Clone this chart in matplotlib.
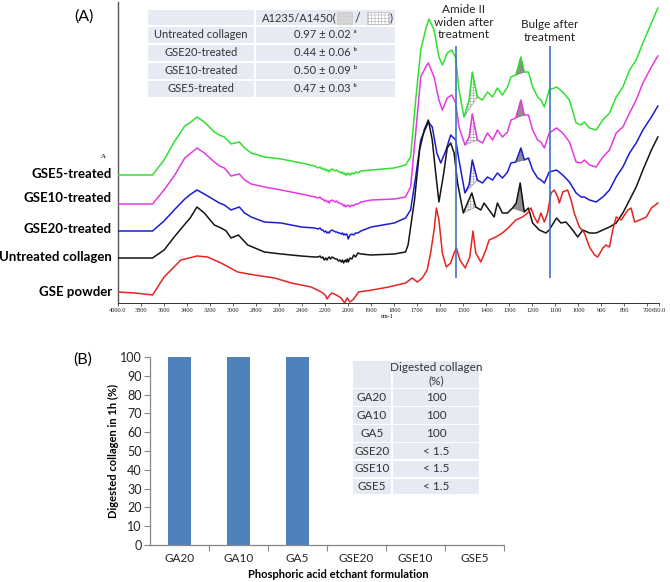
import numpy as np
import matplotlib
matplotlib.use('Agg')
import matplotlib.pyplot as plt
from matplotlib.patches import Rectangle

plt.rcParams['font.family'] = ['Lato', 'DejaVu Sans']
plt.rcParams['hatch.linewidth'] = 0.35

# ---------------- data: FTIR spectra (wavenumber, absorbance a.u.) ----------------
noise_wn = [2260, 2245, 2232, 2220, 2208, 2196, 2185, 2175, 2165, 2155,
            2140, 2125, 2110, 2098, 2085, 2072, 2060, 2050, 2040, 2032,
            2024, 2016, 2008, 2000, 1992, 1984, 1976, 1968, 1958, 1945]
head_wn = [4000, 3850, 3700, 3600, 3512, 3420, 3366, 3314, 3250, 3163,
           3120, 3076, 3018, 2946, 2900, 2843, 2728, 2582, 2408, 2292]

gse5_wn = head_wn + noise_wn + [
    1900, 1800, 1751, 1729, 1707, 1685, 1661, 1649, 1627, 1606,
    1591, 1570, 1550, 1533, 1519, 1497, 1475, 1461, 1439, 1417,
    1395, 1373, 1352, 1330, 1308, 1293, 1272, 1250, 1235, 1217,
    1199, 1177, 1163, 1148, 1127, 1095, 1068, 1039, 1010, 988,
    974, 952, 923, 894, 865, 836, 807, 778, 749, 720, 683, 655]
gse5_abs = [128, 128, 128, 143, 161, 177, 181, 186, 181, 171,
            168, 166, 159, 161, 155, 150, 146, 144, 140, 137,
            135, 136, 134, 135, 133, 134, 132, 133, 131, 133,
            134, 133, 132, 133, 131, 131, 130, 131, 129, 130,
            128, 129, 128, 130, 128, 130, 129, 131, 130, 132,
            133, 135, 138, 146, 203, 253, 276, 284, 273, 246,
            238, 250, 253, 245, 213, 186, 203, 231, 206, 203,
            211, 206, 215, 208, 216, 226, 228, 246, 231, 231,
            216, 206, 203, 196, 213, 216, 211, 203, 180, 178,
            181, 175, 173, 183, 190, 206, 216, 233, 243, 260, 280, 295]

gse10_wn = head_wn + noise_wn + [
    1900, 1800, 1751, 1729, 1707, 1685, 1661, 1652, 1627, 1606,
    1591, 1570, 1550, 1533, 1519, 1493, 1475, 1461, 1439, 1417,
    1395, 1373, 1352, 1330, 1308, 1293, 1272, 1250, 1235, 1217,
    1199, 1177, 1163, 1148, 1127, 1095, 1068, 1039, 1010, 988,
    974, 952, 923, 894, 865, 836, 807, 778, 749, 720, 683, 655]
gse10_abs = [99, 99, 99, 113, 127, 145, 150, 155, 150, 141,
             137, 135, 127, 129, 123, 119, 116, 113, 109, 106,
             105, 106, 104, 104, 102, 103, 101, 102, 100, 102,
             103, 102, 101, 102, 100, 100, 99, 99, 97, 98,
             96, 97, 97, 98, 96, 98, 97, 99, 99, 101,
             103, 104, 106, 116, 170, 226, 237, 240, 226, 203,
             193, 205, 208, 200, 176, 158, 166, 189, 163, 160,
             170, 163, 173, 166, 171, 183, 185, 203, 188, 188,
             173, 163, 161, 155, 170, 175, 170, 161, 141, 140,
             143, 138, 136, 146, 153, 170, 176, 190, 203, 220, 236, 247]

gse20_wn = head_wn + noise_wn + [
    1900, 1800, 1751, 1729, 1707, 1685, 1652, 1635, 1615, 1598,
    1575, 1555, 1533, 1519, 1493, 1475, 1461, 1439, 1417, 1395,
    1373, 1352, 1330, 1308, 1293, 1272, 1250, 1235, 1217, 1199,
    1177, 1163, 1148, 1127, 1095, 1068, 1039, 1010, 988, 974,
    952, 923, 894, 865, 836, 807, 778, 749, 720, 683, 655]
gse20_abs = [72, 72, 72, 82, 93, 104, 109, 113, 109, 103,
             100, 98, 93, 96, 90, 86, 81, 80, 76, 75,
             74, 75, 73, 73, 71, 72, 70, 71, 70, 72,
             73, 72, 71, 71, 70, 70, 69, 70, 68, 69,
             68, 69, 68, 64, 68, 69, 68, 70, 70, 72,
             76, 80, 85, 93, 126, 163, 181, 176, 150, 140,
             153, 168, 163, 143, 110, 118, 143, 123, 120, 126,
             123, 130, 125, 131, 140, 141, 155, 143, 145, 133,
             125, 123, 120, 131, 133, 128, 121, 110, 106, 106,
             103, 101, 106, 113, 126, 136, 150, 160, 173, 186, 197]

untreated_wn = [4000, 3850, 3700, 3599, 3512, 3425, 3373, 3314, 3250, 3163,
                3105, 3060, 3018, 2954, 2873, 2728, 2582, 2408, 2292] + noise_wn + [
    1900, 1800, 1751, 1740, 1712, 1690, 1670, 1652, 1635, 1620,
    1606, 1585, 1570, 1555, 1540, 1525, 1500, 1482, 1463, 1446,
    1424, 1410, 1388, 1366, 1352, 1330, 1308, 1286, 1270, 1253,
    1235, 1217, 1199, 1170, 1141, 1127, 1095, 1076, 1054, 1025,
    1003, 981, 952, 923, 894, 865, 836, 807, 778, 749, 720, 683, 655]
untreated_abs = [45, 45, 45, 53, 66, 78, 85, 96, 90, 78,
                 75, 72, 65, 68, 58, 51, 49, 47, 46,
                 46, 47, 45, 46, 43, 45, 43, 45, 46, 44,
                 46, 45, 44, 44, 42, 43, 41, 43, 40, 42,
                 43, 41, 44, 41, 45, 44, 48, 46, 50, 49,
                 48, 49, 51, 58, 103, 153, 173, 183, 163, 130,
                 101, 130, 155, 160, 150, 120, 90, 100, 110, 96,
                 93, 100, 93, 86, 100, 90, 90, 95, 100, 120,
                 91, 95, 80, 73, 70, 73, 85, 80, 81, 73,
                 66, 73, 70, 70, 73, 76, 80, 90, 103, 116, 133, 153, 166]

powder_wn = [4000, 3850, 3700, 3599, 3454, 3314, 3222, 3105, 2960, 2815,
             2640, 2495, 2321, 2234, 2200, 2184, 2160, 2141, 2104, 2060,
             2045, 2030, 2015, 2008, 1993, 1976, 1955, 1896, 1824, 1751,
             1722, 1700, 1678, 1657, 1642, 1627, 1617, 1606, 1591, 1574,
             1555, 1540, 1530, 1515, 1492, 1472, 1458, 1446, 1424, 1402,
             1388, 1359, 1330, 1301, 1272, 1243, 1221, 1206, 1192, 1177,
             1163, 1148, 1134, 1119, 1105, 1090, 1083, 1068, 1047, 1032,
             1018, 996, 974, 952, 930, 916, 894, 880, 865, 851,
             836, 814, 800, 785, 771, 756, 734, 705, 683, 655]
powder_abs = [11, 10, 8, 26, 43, 47, 46, 40, 31, 28,
              25, 20, 16, 11, 8, 4, 8, 10, 8, 5,
              2, 0, 4, 5, 1, 4, 11, 13, 16, 20,
              25, 21, 25, 33, 50, 73, 95, 83, 50, 36,
              40, 50, 55, 43, 35, 46, 72, 50, 41, 53,
              63, 66, 70, 76, 83, 86, 90, 95, 86, 80,
              90, 81, 90, 110, 113, 106, 100, 111, 113, 103,
              90, 76, 70, 56, 48, 46, 55, 58, 56, 73,
              86, 83, 88, 93, 95, 81, 83, 86, 95, 100]

spectrum_names = ['GSE5-treated', 'GSE10-treated', 'GSE20-treated', 'Untreated collagen', 'GSE powder']
# shaded bands (start, end) in cm-1: amide II hatched, 1235 band grey
amide_band = [(1497, 1439), (1493, 1439), (1493, 1439), (1500, 1446)]
band_1235 = [(1272, 1235), (1272, 1235), (1272, 1235), (1286, 1235)]
marker_wn = [1530, 1125]

tick_wn = [4000, 3800, 3600, 3400, 3200, 3000, 2800, 2600, 2400, 2200, 2000,
           1900, 1800, 1700, 1600, 1500, 1400, 1300, 1200, 1100, 1000, 900, 800, 700, 650]
tick_lbl = ['4000.0', '3800', '3600', '3400', '3200', '3000', '2800', '2600', '2400', '2200', '2000',
            '1900', '1800', '1700', '1600', '1500', '1400', '1300', '1200', '1100', '1000', '900', '800', '700', '650.0']

tableA_rows = ['Untreated collagen', 'GSE20-treated', 'GSE10-treated', 'GSE5-treated']
tableA_vals = ['0.97 ± 0.02 ᵃ', '0.44 ± 0.06 ᵇ', '0.50 ± 0.09 ᵇ', '0.47 ± 0.03 ᵇ']

# ---------------- data: digestion ----------------
formulations = ['GA20', 'GA10', 'GA5', 'GSE20', 'GSE10', 'GSE5']
digested = [100, 100, 100, 0, 0, 0]
digested_txt = ['100', '100', '100', '< 1.5', '< 1.5', '< 1.5']

# ---------------- layout helpers ----------------
W, H = 670, 582
def fx(x): return x / W
def fy(y): return 1 - y / H

fig = plt.figure(figsize=(W / 100, H / 100), dpi=100)
fig.patch.set_facecolor('white')

# ================= Panel A =================
axA = fig.add_axes([fx(118), fy(303), (659 - 118) / W, (303 - 2) / H])

def fwd(x):
    x = np.asarray(x, float)
    return np.where(x >= 2000, (x - 2000) / 200.0, (x - 2000) / 100.0)

def inv(u):
    u = np.asarray(u, float)
    return np.where(u >= 0, 2000 + 200 * u, 2000 + 100 * u)

axA.set_xscale('function', functions=(fwd, inv))
axA.set_xlim(4000, 650)
axA.set_ylim(0, 301)

series = [(gse5_wn, gse5_abs, '#2fe02f'),
          (gse10_wn, gse10_abs, '#e23ae2'),
          (gse20_wn, gse20_abs, '#1c1cd4'),
          (untreated_wn, untreated_abs, '#141414'),
          (powder_wn, powder_abs, '#e42520')]

for wn, ab, col in series:
    axA.plot(np.asarray(wn, float), np.asarray(ab, float), color=col, lw=1.1, zorder=3,
             solid_joinstyle='round')

for si in range(4):
    wn = np.asarray(series[si][0], float); ab = np.asarray(series[si][1], float)
    a0, a1 = amide_band[si]
    m = (wn <= a0) & (wn >= a1)
    axA.fill(wn[m], ab[m], facecolor='white', edgecolor='#9a9a9a', hatch='++++++',
             lw=0.5, zorder=2)
    b0, b1 = band_1235[si]
    m = (wn <= b0) & (wn >= b1)
    axA.fill(wn[m], ab[m], facecolor='#8e8e8e', edgecolor='#707070', lw=0.5, zorder=2)

axA.vlines(marker_wn, 25, 257, colors='#3d72c6', lw=1.2, zorder=4)

axA.set_xticks(tick_wn)
axA.set_xticklabels(tick_lbl, fontfamily='Liberation Serif', fontsize=4.6)
axA.tick_params(axis='x', length=2, width=0.5, pad=1.5, colors='#222')
axA.set_yticks([])
for s in ['top', 'right']:
    axA.spines[s].set_visible(False)
axA.spines['left'].set_color('#555555')
axA.spines['left'].set_linewidth(1.0)
axA.spines['bottom'].set_color('#333333')
axA.spines['bottom'].set_linewidth(0.7)

fig.text(fx(387), fy(317), 'cm-1', fontfamily='Liberation Serif', fontsize=4.5, ha='center', va='center')
fig.text(fx(103), fy(157), 'A', fontfamily='Liberation Serif', fontsize=5, ha='center', va='center')
fig.text(fx(84), fy(17), '(A)', fontsize=11.5, ha='center', va='center')

label_y = [174, 198, 229, 257, 292]
for name, y in zip(spectrum_names, label_y):
    fig.text(fx(112), fy(y), name, fontsize=9.5, fontweight='bold', ha='right', va='center')

fig.text(fx(463.5), fy(22), 'Amide II\nwiden after\ntreatment', fontsize=8.5, ha='center', va='center',
         linespacing=1.15, color='#222')
fig.text(fx(550), fy(31), 'Bulge after\ntreatment', fontsize=8.5, ha='center', va='center',
         linespacing=1.15, color='#222')

cell_col = '#e7eaf2'

def cells(xb, yb):
    for i in range(len(yb) - 1):
        for j in range(len(xb) - 1):
            fig.patches.append(Rectangle((fx(xb[j] + 0.8), fy(yb[i + 1] - 0.8)),
                                         (xb[j + 1] - xb[j] - 1.6) / W, (yb[i + 1] - yb[i] - 1.6) / H,
                                         transform=fig.transFigure, facecolor=cell_col,
                                         edgecolor='none', zorder=0))

# table A
xbA = [147, 255, 396]
ybA = [9.5, 26, 44, 62, 80, 97.5]
cells(xbA, ybA)
fig.text(fx(336.5), fy(18), 'A1235/A1450(', fontsize=8, ha='right', va='center', color='#333')
fig.patches.append(Rectangle((fx(337), fy(24)), 15 / W, 12 / H, transform=fig.transFigure,
                             facecolor='#d6d6d6', edgecolor='#c4c4c4', hatch='.....', lw=0.4, zorder=1))
fig.text(fx(357), fy(18), '/', fontsize=9, ha='center', va='center', color='#333')
fig.patches.append(Rectangle((fx(366.5), fy(24)), 22 / W, 12 / H, transform=fig.transFigure,
                             facecolor='white', edgecolor='#aaaaaa', hatch='+++++', lw=0.4, zorder=1))
fig.text(fx(389.5), fy(18), ')', fontsize=8, ha='left', va='center', color='#333')
for i, (r, v) in enumerate(zip(tableA_rows, tableA_vals)):
    yc = (ybA[i + 1] + ybA[i + 2]) / 2
    fig.text(fx((xbA[0] + xbA[1]) / 2), fy(yc), r, fontsize=8, ha='center', va='center', color='#333')
    fig.text(fx(325), fy(yc), v, fontsize=8, ha='center', va='center', color='#333',
             fontfamily=['Lato', 'DejaVu Sans'])

# ================= Panel B =================
axB = fig.add_axes([fx(150), fy(545), (504 - 150) / W, (545 - 357) / H])
xpos = np.arange(len(formulations))
axB.bar(xpos, digested, width=0.4, color='#4f81bd', zorder=2)
axB.set_xlim(-0.5, len(formulations) - 0.5)
axB.set_ylim(0, 100)
axB.set_yticks(np.arange(0, 101, 10))
axB.tick_params(axis='y', length=4, width=0.8, color='#868686', labelsize=9, pad=2, labelcolor='#222')
axB.set_xticks(xpos + 0.5)
axB.set_xticklabels([])
axB.set_xticks(xpos, minor=True)
axB.set_xticklabels(formulations, minor=True, fontsize=8.5, color='#222')
axB.tick_params(axis='x', which='major', length=4, width=0.8, color='#868686')
axB.tick_params(axis='x', which='minor', length=0, pad=6)
for s in ['top', 'right']:
    axB.spines[s].set_visible(False)
for s in ['left', 'bottom']:
    axB.spines[s].set_color('#868686')
    axB.spines[s].set_linewidth(0.9)
axB.set_ylabel('Digested collagen in 1h (%)', fontsize=8, fontweight='bold', labelpad=1)
fig.text(fx(338), fy(575), 'Phosphoric acid etchant formulation', fontsize=8, fontweight='bold',
         ha='center', va='center')
fig.text(fx(83), fy(360), '(B)', fontsize=11.5, ha='center', va='center')

# table B
xbB = [352, 392, 480]
ybB = [360, 388.3, 406.5, 424.3, 442.3, 460, 477.7, 495]
cells(xbB, ybB)
fig.text(fx(436), fy(374), 'Digested collagen\n(%)', fontsize=8.5, ha='center', va='center',
         color='#333', linespacing=1.2)
for i, (r, v) in enumerate(zip(formulations, digested_txt)):
    yc = (ybB[i + 1] + ybB[i + 2]) / 2
    fig.text(fx(372), fy(yc), r, fontsize=8.5, ha='center', va='center', color='#333')
    fig.text(fx(436), fy(yc), v, fontsize=8.5, ha='center', va='center', color='#333')

fig.savefig('out.png', dpi=100)
